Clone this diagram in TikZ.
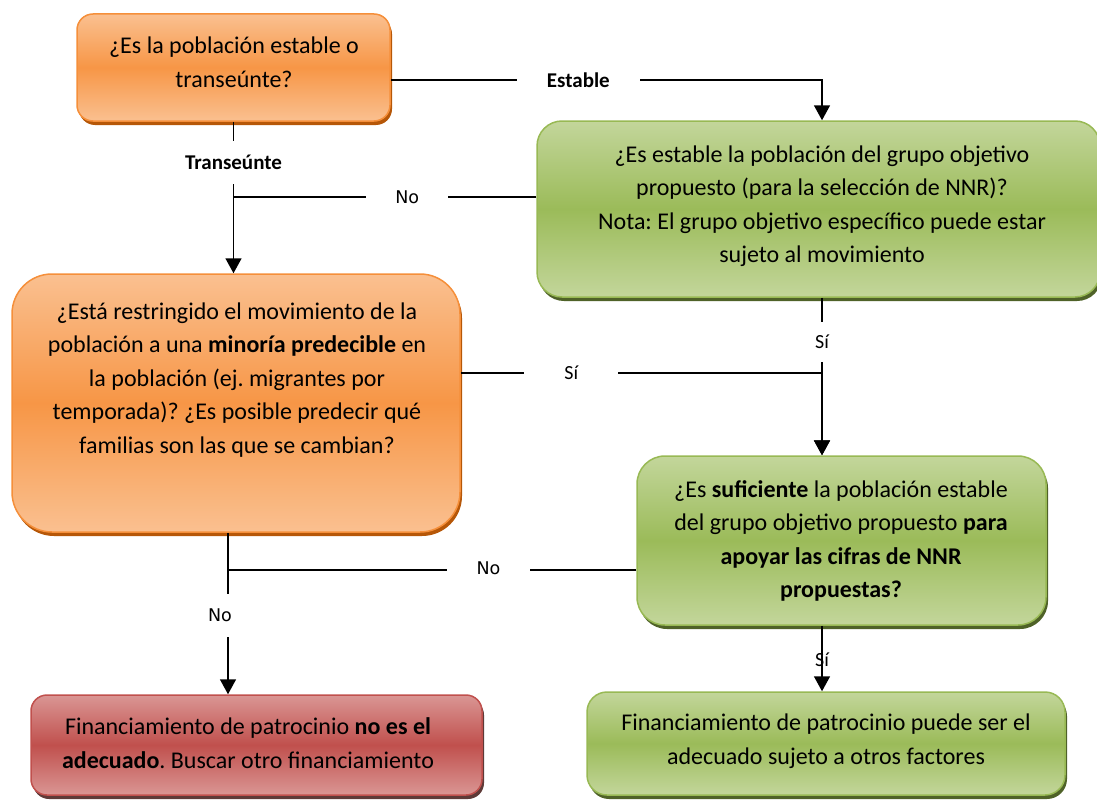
\documentclass[tikz,border=0pt]{standalone}
\usepackage{fontspec}
\setmainfont{Carlito}
\newfontfamily\nofont{DejaVu Sans}
\usetikzlibrary{shadows,arrows.meta}
\frenchspacing
\definecolor{orL}{HTML}{FAC090}
\definecolor{orM}{HTML}{F79646}
\definecolor{orB}{HTML}{F58F3A}
\definecolor{orS}{HTML}{B65708}
\definecolor{grL}{HTML}{C3D69B}
\definecolor{grM}{HTML}{9BBB59}
\definecolor{grB}{HTML}{98B954}
\definecolor{grS}{HTML}{4F6228}
\definecolor{rdL}{HTML}{DA9694}
\definecolor{rdM}{HTML}{C0504D}
\definecolor{rdB}{HTML}{C0504D}
\definecolor{rdS}{HTML}{5E3A38}
\begin{document}
\begin{tikzpicture}[x=1pt,y=-1pt,
  box/.style={rectangle, inner sep=0pt, line width=1.5pt},
  orbox/.style={box, draw=orB, top color=orL, bottom color=orL, middle color=orM,
    drop shadow={shadow xshift=2pt, shadow yshift=-4pt, fill=orS, opacity=1}},
  grbox/.style={box, draw=grB, top color=grL, bottom color=grL, middle color=grM,
    drop shadow={shadow xshift=2pt, shadow yshift=-4pt, fill=grS, opacity=1}},
  rdbox/.style={box, draw=rdB, top color=rdL, bottom color=rdL, middle color=rdM,
    drop shadow={shadow xshift=2pt, shadow yshift=-4pt, fill=rdS, opacity=1}},
  txt/.style={align=center, font=\fontsize{24}{33.5}\selectfont, inner sep=0pt, text=black},
  lab/.style={font=\fontsize{20}{24}\selectfont, fill=white, text=black},
  blab/.style={lab, font=\bfseries\fontsize{21}{25}\selectfont},
  nolab/.style={font=\nofont\fontsize{17.5}{21}\selectfont, fill=white, text=black},
  conn/.style={line width=1.6pt, black},
  arr/.style={conn, -{Triangle[width=16pt,length=15pt]}}
]
\useasboundingbox (0,0) rectangle (1097,800);

% boxes
\node[orbox, minimum width=313pt, minimum height=107pt, rounded corners=16pt] (b1) at (233.5,67.5) {};
\node[txt] (t1) at (234,62.5) {¿Es la población estable o\\transeúnte?};

\node[grbox, minimum width=563pt, minimum height=176pt, rounded corners=25pt] (b2) at (818.5,209) {};
\node[txt] (t2) at (822,206) {¿Es estable la población del grupo objetivo\\propuesto (para la selección de NNR)?\\Nota: El grupo objetivo específico puede estar\\sujeto al movimiento};

\node[orbox, minimum width=448pt, minimum height=258pt, rounded corners=40pt] (b3) at (236,403) {};
\node[txt] (t3) at (237,380) {¿Está restringido el movimiento de la\\población a una \textbf{minoría predecible} en\\la población (ej. migrantes por\\temporada)? ¿Es posible predecir qué\\familias son las que se cambian?};

\node[grbox, minimum width=409pt, minimum height=169pt, rounded corners=28pt] (b4) at (841.5,540.5) {};
\node[txt] (t4) at (841,541) {¿Es \textbf{suficiente} la población estable\\del grupo objetivo propuesto \textbf{para}\\\textbf{apoyar las cifras de NNR}\\\textbf{propuestas?}};

\node[rdbox, minimum width=451pt, minimum height=100pt, rounded corners=16pt] (b5) at (256.5,745) {};
\node[txt] (t5) at (248,743) {Financiamiento de patrocinio \textbf{no es el}\\\textbf{adecuado}. Buscar otro financiamiento};

\node[grbox, minimum width=478pt, minimum height=103pt, rounded corners=20pt] (b6) at (826,743.5) {};
\node[txt] (t6) at (826,741) {Financiamiento de patrocinio puede ser el\\adecuado sujeto a otros factores};

% junction points
\coordinate (j1) at ([xshift=-8pt]b3.south);
\coordinate (j2) at ([xshift=3.5pt]b2.south);

% connectors
\draw[arr] ([yshift=-12.5pt]b1.east) -| node[pos=0.2175, blab, inner xsep=30pt, inner ysep=2pt] (l1) {Estable} ([xshift=3.5pt]b2.north);

\draw[arr] (b1.south) -- node[pos=0.27, blab, inner xsep=4pt, inner ysep=14pt] (l2) {Transeúnte} (b1.south |- b3.north);

\draw[conn] ([yshift=12pt]b2.west) -- node[pos=0.426, nolab, inner xsep=29pt, inner ysep=2pt] (l3) {No} ([yshift=12pt]b2.west -| b1.south);

\draw[arr] (j2) -- node[pos=0.28, lab, inner xsep=2pt, inner ysep=13pt] (l4) {Sí} (j2 |- b4.north);

\draw[arr] ([yshift=30pt]b3.east) -| node[pos=0.153, lab, inner xsep=40pt, inner ysep=2pt] (l5) {Sí} ([xshift=-19.5pt]b4.north);

\draw[conn] ([yshift=-29.5pt]b4.west) -- node[pos=0.362, nolab, inner xsep=30pt, inner ysep=2pt, yshift=2pt] (l6) {No} ([yshift=-29.5pt]b4.west -| j1);

\draw[arr] (j1) -- node[pos=0.51, nolab, inner xsep=2pt, inner ysep=15pt, xshift=-8pt] (l7) {No} (j1 |- b5.north);

\draw[arr] ([xshift=-19.5pt]b4.south) -- node[pos=0.52, lab, fill=none, inner sep=0pt] (l8) {Sí} ([xshift=-19.5pt]b4.south |- b6.north);
\end{tikzpicture}
\end{document}
